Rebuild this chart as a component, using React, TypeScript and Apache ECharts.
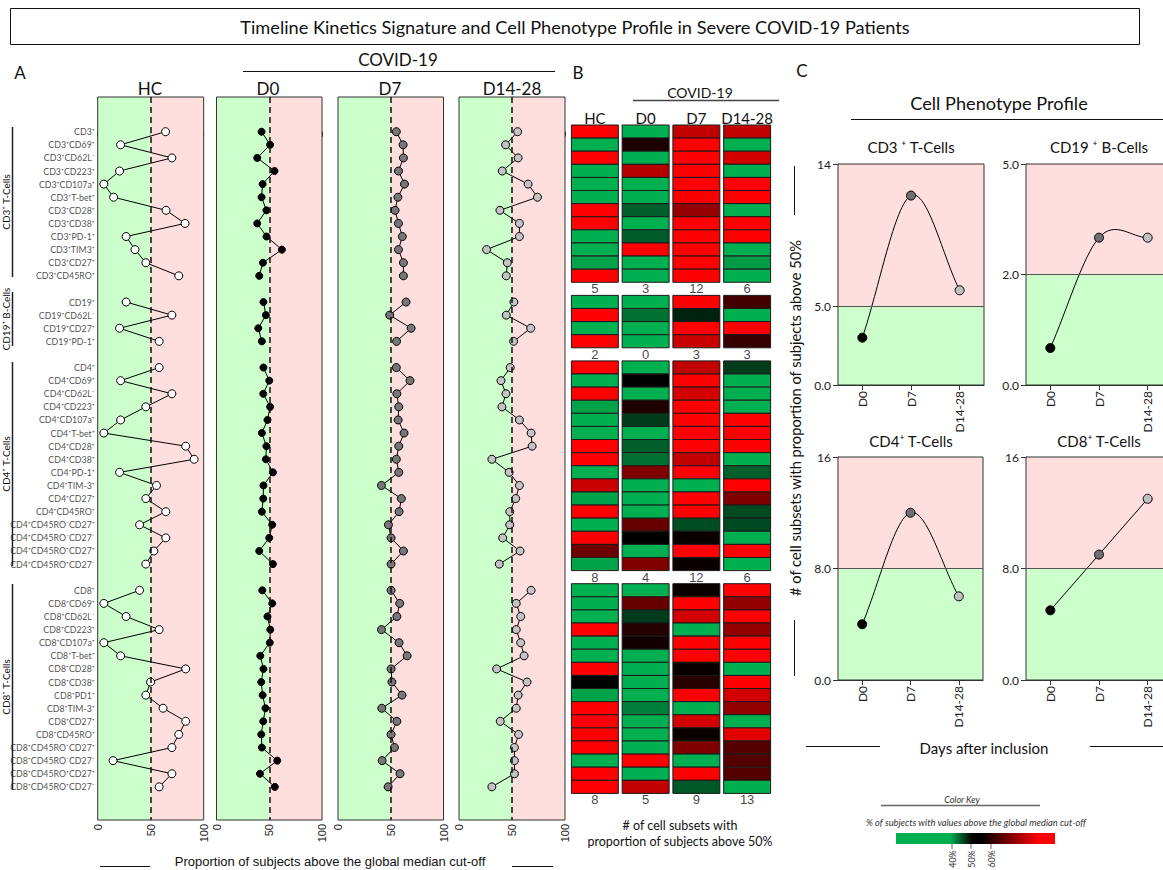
import React, { useEffect, useRef } from "react";
import * as echarts from "echarts";

// ---------------- Panel A / B data ----------------
const groupNames = ["CD3⁺ T-Cells", "CD19⁺ B-Cells", "CD4⁺ T-Cells", "CD8⁺ T-Cells"];

const CD3_LABELS = ["CD3⁺", "CD3⁺CD69⁺", "CD3⁺CD62L⁻", "CD3⁺CD223⁺", "CD3⁺CD107a⁺", "CD3⁺T-bet⁺", "CD3⁺CD28⁺", "CD3⁺CD38⁺", "CD3⁺PD-1⁺", "CD3⁺TIM3⁺", "CD3⁺CD27⁺", "CD3⁺CD45RO⁺"];
const CD19_LABELS = ["CD19⁺", "CD19⁺CD62L⁻", "CD19⁺CD27⁺", "CD19⁺PD-1⁺"];
const CD4_LABELS = ["CD4⁺", "CD4⁺CD69⁺", "CD4⁺CD62L⁻", "CD4⁺CD223⁺", "CD4⁺CD107a⁺", "CD4⁺T-bet⁺", "CD4⁺CD28⁺", "CD4⁺CD38⁺", "CD4⁺PD-1⁺", "CD4⁺TIM-3⁺", "CD4⁺CD27⁺", "CD4⁺CD45RO⁺", "CD4⁺CD45RO⁻CD27⁺", "CD4⁺CD45RO⁻CD27⁻", "CD4⁺CD45RO⁺CD27⁺", "CD4⁺CD45RO⁺CD27⁻"];
const CD8_LABELS = ["CD8⁺", "CD8⁺CD69⁺", "CD8⁺CD62L⁻", "CD8⁺CD223⁺", "CD8⁺CD107a⁺", "CD8⁺T-bet⁺", "CD8⁺CD28⁺", "CD8⁺CD38⁺", "CD8⁺PD1⁺", "CD8⁺TIM-3⁺", "CD8⁺CD27⁺", "CD8⁺CD45RO⁺", "CD8⁺CD45RO⁻CD27⁺", "CD8⁺CD45RO⁻CD27⁻", "CD8⁺CD45RO⁺CD27⁺", "CD8⁺CD45RO⁺CD27⁻"];

// % of subjects above the global median cut-off
const HC_CD3 = [64, 21.6, 70, 20.6, 5.8, 15, 64.5, 82.4, 26.8, 35.2, 45.4, 76.5];
const HC_CD19 = [26.8, 70, 20.6, 58];
const HC_CD4 = [58, 21.6, 70, 45.4, 21.6, 5.8, 83, 91, 20.6, 55.5, 45.4, 64.2, 39.5, 64.2, 53, 45.4];
const HC_CD8 = [39.5, 5.8, 26.8, 58, 5.8, 21.6, 83, 49.9, 45.4, 61.7, 83, 76.5, 70, 14.5, 70, 58];

const D0_CD3 = [42.7, 50.8, 38.6, 55, 43.7, 42.7, 47.3, 38.6, 47.4, 62, 44, 40.5];
const D0_CD19 = [44.5, 46.8, 39.6, 43];
const D0_CD4 = [44.5, 50, 44.3, 50.8, 48.3, 43, 47.3, 46.8, 53.5, 44.5, 44.3, 43, 52.8, 50, 40.5, 53.5];
const D0_CD8 = [43.4, 52.8, 48.3, 51, 50.5, 41.5, 44.5, 42.4, 43.7, 46.4, 44.3, 42.4, 43, 57.6, 41.2, 55.3];

const D7_CD3 = [55.3, 61.7, 62, 57.3, 63, 56.8, 54.1, 57.3, 61, 57.3, 62, 62];
const D7_CD19 = [64.5, 49, 69.3, 55.5];
const D7_CD4 = [55.3, 68.3, 55.8, 57.6, 57, 62.6, 57.6, 55.3, 57.6, 41.2, 60.1, 57.9, 47.8, 50.3, 62, 50.3];
const D7_CD8 = [50.3, 58.5, 55.8, 41.2, 57.9, 65.5, 50.3, 51.1, 60.7, 41.5, 55.8, 50.3, 53.5, 41.8, 58.8, 47.5];

const D14_CD3 = [55.3, 44, 55.8, 40.8, 65.2, 74, 38.6, 57, 57, 26, 45.6, 44.6];
const D14_CD19 = [51.8, 44.6, 67.7, 51.5];
const D14_CD4 = [48.3, 39.6, 44.3, 40.5, 57, 68, 69, 31, 47.3, 57, 53.5, 47.9, 47.9, 41.2, 57.6, 38];
const D14_CD8 = [68, 54, 58.2, 54, 58.2, 61.4, 35.5, 64.2, 55.8, 54, 38.9, 56.2, 52.3, 52.3, 52.3, 31];

// # of cell subsets with proportion above 50% (per group)
const COUNT_HC = [5, 2, 8, 8];
const COUNT_D0 = [3, 0, 4, 5];
const COUNT_D7 = [12, 3, 12, 9];
const COUNT_D14 = [6, 3, 6, 13];

const timepoints = ["HC", "D0", "D7", "D14-28"];

// ---------------- Panel C data ----------------
const phenoDays = ["D0", "D7", "D14-28"];
const CD3_PROFILE = [3, 12, 6];
const CD19_PROFILE = [0.67, 3, 3];
const CD4_PROFILE = [4, 12, 6];
const CD8_PROFILE = [5, 9, 13];

const FONT = 'Lato, "Open Sans", "DejaVu Sans", sans-serif';
const ARIAL = '"Liberation Sans", Arial, sans-serif';
const GREEN_BG = "#ccffcc";
const PINK_BG = "#ffdede";

function heatColor(v: number): string {
  if (v <= 45) return "rgb(0,176,80)";
  if (v <= 50) {
    const t = (50 - v) / 5;
    return `rgb(0,${Math.round(176 * t)},${Math.round(80 * t)})`;
  }
  if (v < 57) {
    const t = (v - 50) / 7;
    return `rgb(${Math.round(255 * t)},0,0)`;
  }
  return "rgb(255,0,0)";
}

function buildOption() {
  const groupLabels = [CD3_LABELS, CD19_LABELS, CD4_LABELS, CD8_LABELS];
  const groupStart: number[] = [];
  let acc = 0;
  groupLabels.forEach((l) => {
    groupStart.push(acc);
    acc += l.length + 1;
  });

  const tpValues = [
    [HC_CD3, HC_CD19, HC_CD4, HC_CD8],
    [D0_CD3, D0_CD19, D0_CD4, D0_CD8],
    [D7_CD3, D7_CD19, D7_CD4, D7_CD8],
    [D14_CD3, D14_CD19, D14_CD4, D14_CD8],
  ];
  const tpCounts = [COUNT_HC, COUNT_D0, COUNT_D7, COUNT_D14];
  const tpStyle = [
    { color: "#ffffff", size: 8, left: 97.7, width: 106 },
    { color: "#000000", size: 7, left: 216.5, width: 105.5 },
    { color: "#777777", size: 8, left: 338, width: 105.5 },
    { color: "#c4c4c4", size: 8, left: 459, width: 106 },
  ];

  const Y_MIN = -2.648;
  const Y_MAX = 52.53;

  const grid: any[] = [];
  const xAxis: any[] = [];
  const yAxis: any[] = [];
  const series: any[] = [];

  // ---- Panel A ----
  tpStyle.forEach((st, i) => {
    grid.push({ left: st.left, top: 97, width: st.width, height: 723, show: true, borderColor: "#333", borderWidth: 1, z: 5 });
    xAxis.push({
      gridIndex: i, type: "value", min: 0, max: 100, interval: 50,
      axisLine: { show: false },
      axisTick: { show: true, length: 5, lineStyle: { color: "#333" } },
      axisLabel: { rotate: 90, fontSize: 11, fontFamily: ARIAL, color: "#222", margin: 4 },
      splitLine: { show: false },
    });
    yAxis.push({ gridIndex: i, type: "value", inverse: true, min: Y_MIN, max: Y_MAX, show: false });
    series.push({
      type: "line", xAxisIndex: i, yAxisIndex: i, data: [], z: 1, silent: true,
      markArea: {
        silent: true,
        data: [
          [{ xAxis: 0, itemStyle: { color: GREEN_BG } }, { xAxis: 50 }],
          [{ xAxis: 50, itemStyle: { color: PINK_BG } }, { xAxis: 100 }],
        ],
      },
      markLine: {
        silent: true, symbol: ["none", "none"], label: { show: false },
        lineStyle: { type: [6, 4], color: "#111", width: 1.5 },
        data: [{ xAxis: 50 }],
      },
    });
    tpValues[i].forEach((vals, g) => {
      series.push({
        type: "line", xAxisIndex: i, yAxisIndex: i, z: 3, clip: false,
        data: vals.map((v, k) => [v, groupStart[g] + k]),
        symbol: "circle", symbolSize: st.size, showSymbol: true,
        itemStyle: { color: st.color, borderColor: "#000", borderWidth: 1 },
        lineStyle: { color: "#000", width: 1 },
        silent: true,
      });
    });
  });

  // row labels
  const labelData: any[] = [];
  groupLabels.forEach((labels, g) => {
    labels.forEach((name, k) => labelData.push({ value: [0, groupStart[g] + k], name }));
  });
  series.push({
    type: "scatter", xAxisIndex: 0, yAxisIndex: 0, symbolSize: 0, silent: true, z: 4,
    data: labelData,
    label: { show: true, position: "left", distance: 3, formatter: "{b}", fontSize: 8.8, fontFamily: FONT, color: "#1a1a1a" },
  });

  // ---- Panel B heatmap ----
  const hi = 4;
  grid.push({ left: 569.5, top: 125, width: 203, height: 695 });
  xAxis.push({
    gridIndex: hi, type: "category", data: timepoints, position: "top",
    axisLine: { show: false }, axisTick: { show: false },
    axisLabel: { interval: 0, fontSize: 15, fontFamily: FONT, color: "#111", margin: 0 },
  });
  yAxis.push({ gridIndex: hi, type: "value", inverse: true, min: -0.5, max: Y_MAX, show: false });
  const heatData: any[] = [];
  const countData: any[] = [];
  tpValues.forEach((groups, t) => {
    groups.forEach((vals, g) => {
      vals.forEach((v, k) => heatData.push([t, groupStart[g] + k, v]));
      countData.push([t, groupStart[g] + vals.length, tpCounts[t][g]]);
    });
  });
  series.push({
    type: "custom", xAxisIndex: hi, yAxisIndex: hi, silent: true, z: 3,
    encode: { x: 0, y: 1 },
    data: heatData,
    renderItem: (params: any, api: any) => {
      const col = api.value(0);
      const row = api.value(1);
      const v = api.value(2);
      const p = api.coord([col, row]);
      const bw = api.size([1, 1])[0];
      const h = api.size([1, 1])[1];
      const w = bw - 3.8;
      return {
        type: "rect",
        shape: { x: p[0] - w / 2, y: p[1] - h / 2, width: w, height: h },
        style: { fill: heatColor(v), stroke: "#1a1a1a", lineWidth: 1 },
      };
    },
  });
  series.push({
    type: "scatter", xAxisIndex: hi, yAxisIndex: hi, symbolSize: 0, silent: true, z: 4,
    data: countData,
    label: { show: true, position: "inside", formatter: (p: any) => String(p.value[2]), fontSize: 13, fontFamily: ARIAL, color: "#111" },
  });

  // ---- Panel C ----
  const seg19 = (v: number) => (v <= 2 ? v : 2 + ((v - 2) * 2) / 3);
  const ident = (v: number) => v;
  const cCfg = [
    { values: CD3_PROFILE, left: 838, top: 164, width: 146, height: 221, max: 14, thr: 5, ticks: [0, 5, 14], tickLabels: ["0.0", "5.0", "14"], scale: ident },
    { values: CD19_PROFILE, left: 1026, top: 164, width: 146, height: 221, max: 4, thr: 2, ticks: [0, 2, 4], tickLabels: ["0.0", "2.0", "5.0"], scale: seg19 },
    { values: CD4_PROFILE, left: 838, top: 457, width: 145, height: 223, max: 16, thr: 8, ticks: [0, 8, 16], tickLabels: ["0.0", "8.0", "16"], scale: ident },
    { values: CD8_PROFILE, left: 1026, top: 457, width: 146, height: 223, max: 16, thr: 8, ticks: [0, 8, 16], tickLabels: ["0.0", "8.0", "16"], scale: ident },
  ];
  const dayColors = ["#000000", "#707070", "#c0c0c0"];
  cCfg.forEach((c, j) => {
    const gi = 5 + j;
    grid.push({ left: c.left, top: c.top, width: c.width, height: c.height, show: true, borderColor: "#333", borderWidth: 1, z: 5 });
    xAxis.push({
      gridIndex: gi, type: "category", data: phenoDays, boundaryGap: true,
      axisLine: { show: true, lineStyle: { color: "#333" } },
      axisTick: { show: true, alignWithLabel: true, length: 5, lineStyle: { color: "#333" } },
      axisLabel: { interval: 0, rotate: 90, fontSize: 12, fontFamily: FONT, color: "#222", margin: 6 },
    });
    yAxis.push({
      gridIndex: gi, type: "value", min: 0, max: c.max,
      axisLine: { show: true, lineStyle: { color: "#333" } },
      axisTick: { show: true, length: 5, customValues: c.ticks, lineStyle: { color: "#333" } },
      axisLabel: {
        customValues: c.ticks, fontSize: 12, fontFamily: FONT, color: "#222", margin: 7,
        formatter: (v: number) => c.tickLabels[c.ticks.indexOf(v)] ?? "",
      },
      splitLine: { show: false },
    });
    series.push({
      type: "line", xAxisIndex: gi, yAxisIndex: gi, data: [], z: 1, silent: true,
      markArea: {
        silent: true,
        data: [
          [{ yAxis: 0, itemStyle: { color: GREEN_BG } }, { yAxis: c.thr }],
          [{ yAxis: c.thr, itemStyle: { color: PINK_BG } }, { yAxis: c.max }],
        ],
      },
      markLine: {
        silent: true, symbol: ["none", "none"], label: { show: false },
        lineStyle: { type: "solid", color: "#555", width: 1 },
        data: [{ yAxis: c.thr }],
      },
    });
    const n = c.values.length;
    // cardinal-spline connecting curve (through the axis scales)
    series.push({
      type: "custom", xAxisIndex: gi, yAxisIndex: gi, z: 3, silent: true,
      encode: { x: 0, y: 1 },
      data: c.values.map((v, k) => [k, c.scale(v)]),
      renderItem: (params: any, api: any) => {
        const i = params.dataIndex;
        if (i >= n - 1) return { type: "group", children: [] };
        const P = c.values.map((v, k) => api.coord([k, c.scale(v)]));
        const tan = (k: number) => {
          if (k === 0) return [P[1][0] - P[0][0], P[1][1] - P[0][1]];
          if (k === n - 1) return [P[n - 1][0] - P[n - 2][0], P[n - 1][1] - P[n - 2][1]];
          return [(P[k + 1][0] - P[k - 1][0]) / 2, (P[k + 1][1] - P[k - 1][1]) / 2];
        };
        const t0 = tan(i);
        const t1 = tan(i + 1);
        return {
          type: "bezierCurve",
          shape: {
            x1: P[i][0], y1: P[i][1], x2: P[i + 1][0], y2: P[i + 1][1],
            cpx1: P[i][0] + t0[0] / 3, cpy1: P[i][1] + t0[1] / 3,
            cpx2: P[i + 1][0] - t1[0] / 3, cpy2: P[i + 1][1] - t1[1] / 3,
          },
          style: { stroke: "#000", lineWidth: 1, fill: null },
        };
      },
    });
    series.push({
      type: "scatter", xAxisIndex: gi, yAxisIndex: gi, z: 4, silent: true,
      data: c.values.map((v, k) => ({ value: [k, c.scale(v)], itemStyle: { color: dayColors[k] } })),
      symbol: "circle", symbolSize: 9,
      itemStyle: { borderColor: "#000", borderWidth: 1, opacity: 1 },
    });
  });

  // ---- annotations ----
  const txt = (text: string, x: number, y: number, size: number, extra: any = {}) => ({
    type: "text", x, y, silent: true, rotation: extra.rotation || 0,
    style: {
      text, fill: extra.fill || "#111", font: `${extra.italic ? "italic " : ""}${size}px ${extra.family || FONT}`,
      textAlign: extra.align || "center", textVerticalAlign: "middle",
    },
  });
  const line = (x1: number, y1: number, x2: number, y2: number, stroke = "#111", w = 1) => ({
    type: "line", silent: true, shape: { x1, y1, x2, y2 }, style: { stroke, lineWidth: w },
  });

  const groupBars = [[127, 277], [292, 346], [362, 566], [584, 790]];
  const graphic: any[] = [
    { type: "rect", silent: true, shape: { x: 10.5, y: 8.5, width: 1129, height: 36 }, style: { fill: "none", stroke: "#111", lineWidth: 1 } },
    txt("Timeline Kinetics Signature and Cell Phenotype Profile in Severe COVID-19 Patients", 575, 27, 18.2),
    txt("A", 20, 72, 17),
    txt("B", 578, 72, 17),
    txt("C", 802, 70, 17),
    txt("COVID-19", 398, 59, 17),
    line(243, 71.5, 555, 71.5),
    txt("HC", 150, 88, 17),
    txt("D0", 268, 88, 17),
    txt("D7", 390, 88, 17),
    txt("D14-28", 512, 88, 17),
    txt("Proportion of subjects above the global median cut-off", 330, 861, 13, { family: ARIAL }),
    line(100, 866.5, 150, 866.5),
    line(512, 866.5, 553, 866.5),
    txt("COVID-19", 700, 92, 14),
    line(633, 100.5, 779, 100.5, "#444", 1.5),
    txt("# of cell subsets with", 680, 825, 12.5),
    txt("proportion of subjects above 50%", 680, 841, 12.5),
    txt("Cell Phenotype Profile", 999, 103, 18.2),
    line(851, 119.5, 1200, 119.5),
    txt("CD3 ⁺ T-Cells", 911, 147, 15),
    txt("CD19 ⁺ B-Cells", 1099, 147, 15),
    txt("CD4⁺ T-Cells", 911, 441, 15),
    txt("CD8⁺ T-Cells", 1099, 441, 15),
    txt("# of cell subsets with proportion of subjects above 50%", 795, 418, 14.7, { rotation: Math.PI / 2 }),
    line(794.5, 166, 794.5, 215),
    line(794.5, 620, 794.5, 676),
    txt("Days after inclusion", 984, 748, 15),
    line(806, 746.5, 880, 746.5),
    line(1090, 746.5, 1200, 746.5),
    txt("Color Key", 962, 799, 9, { italic: true, fill: "#333" }),
    line(881, 805.5, 1040, 805.5, "#666", 1.5),
    txt("% of subjects with values above the global median cut-off", 976, 822, 9.3, { italic: true, fill: "#333" }),
    {
      type: "rect", silent: true, shape: { x: 896, y: 833, width: 159, height: 11 },
      style: {
        fill: new echarts.graphic.LinearGradient(0, 0, 1, 0, [
          { offset: 0, color: "#00b050" },
          { offset: 0.34, color: "#00b050" },
          { offset: 0.48, color: "#000000" },
          { offset: 0.54, color: "#000000" },
          { offset: 0.9, color: "#ff0000" },
          { offset: 1, color: "#ff0000" },
        ]),
      },
    },
    line(952, 844, 952, 849, "#666", 1),
    line(971, 844, 971, 849, "#666", 1),
    line(991, 844, 991, 849, "#666", 1),
    txt("40%", 952, 859, 9, { rotation: Math.PI / 2, fill: "#333" }),
    txt("50%", 971, 859, 9, { rotation: Math.PI / 2, fill: "#333" }),
    txt("60%", 991, 859, 9, { rotation: Math.PI / 2, fill: "#333" }),
  ];
  const groupCenters = [202, 319, 464, 687];
  groupBars.forEach((b, g) => {
    graphic.push(line(12.5, b[0], 12.5, b[1], "#222", 1.5));
    graphic.push(txt(groupNames[g], 5.5, groupCenters[g], 10, { rotation: Math.PI / 2 }));
  });

  return {
    animation: false,
    backgroundColor: "#ffffff",
    textStyle: { fontFamily: FONT },
    grid, xAxis, yAxis, series, graphic,
  };
}

export default function App() {
  const ref = useRef<HTMLDivElement>(null);
  useEffect(() => {
    if (!ref.current) return;
    const chart = echarts.init(ref.current, undefined, { renderer: "svg" });
    chart.setOption(buildOption() as any);
    return () => chart.dispose();
  }, []);
  return (
    <div style={{ position: "absolute", left: 0, top: 0, width: 1163, height: 870, overflow: "hidden", background: "#fff" }}>
      <div ref={ref} style={{ width: 1200, height: 870 }} />
    </div>
  );
}
